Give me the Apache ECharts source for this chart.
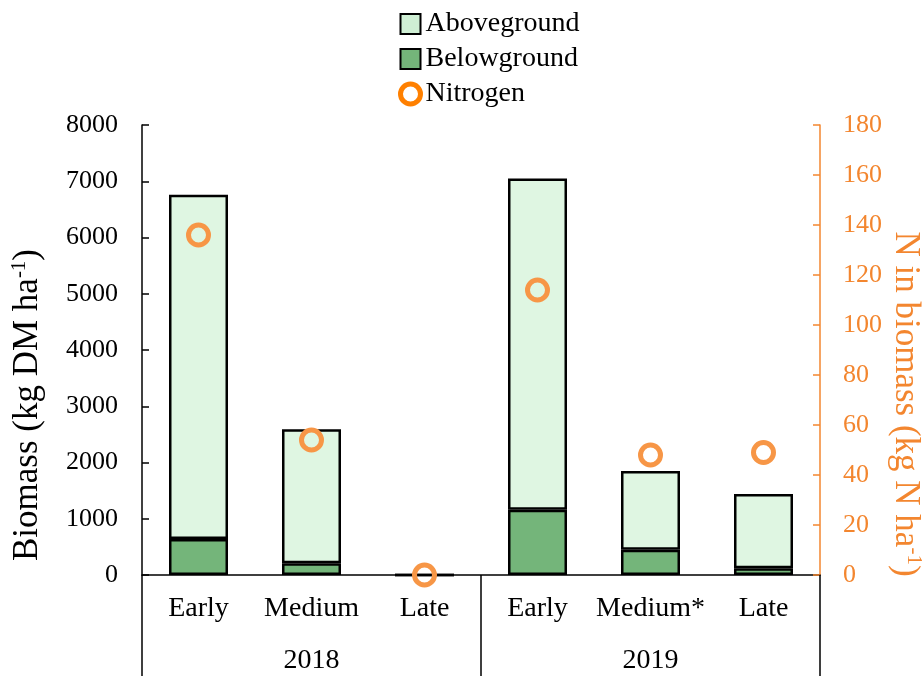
<!DOCTYPE html>
<html>
<head>
<meta charset="utf-8">
<script src="https://cdn.jsdelivr.net/npm/echarts@6/dist/echarts.min.js"></script>
<style>
  html, body { margin: 0; padding: 0; background: #fff; }
  #main { width: 922px; height: 676px; }
</style>
</head>
<body>
<div id="main"></div>
<script>
// 收获期与年份
var stages = ['Early', 'Medium', 'Late', 'Early', 'Medium*', 'Late'];
var years = ['2018', '2019'];
// 生物量 (kg DM/ha)
var belowground = [640, 210, 0, 1160, 450, 120];
var aboveground = [6120, 2380, 0, 5890, 1400, 1320];
// 氮 (kg N/ha)
var nitrogen = [136, 54, 0, 114, 48, 49];

var FONT = '"Liberation Serif", "Times New Roman", serif';
var ORANGE = '#F79646';
var AXIS_ORANGE = '#F3862F';

var chart = echarts.init(document.getElementById('main'));
var option = {
    animation: false,
    textStyle: { fontFamily: FONT },
    legend: {
        orient: 'vertical',
        left: 393,
        top: 5,
        itemWidth: 20,
        itemHeight: 20,
        itemGap: 7,
        textStyle: { fontFamily: FONT, fontSize: 28, color: '#000' },
        data: [
            { name: 'Aboveground', icon: 'rect', itemStyle: { color: '#CFEFD4' } },
            { name: 'Belowground', icon: 'rect' },
            { name: 'Nitrogen', icon: 'circle', itemStyle: { borderColor: '#FF8000', color: '#fff', borderWidth: 5 } }
        ]
    },
    grid: { left: 142, right: 102, top: 125, bottom: 101 },
    xAxis: [{
        type: 'category',
        data: stages,
        axisLine: { lineStyle: { color: '#000', width: 1.5 } },
        axisTick: { show: false },
        axisLabel: { color: '#000', fontSize: 28, fontFamily: FONT, margin: 20, interval: 0 }
    }, {
        type: 'category',
        data: years,
        position: 'bottom',
        axisLine: { show: false },
        axisTick: { show: true, length: 101, lineStyle: { color: '#000', width: 1.5 } },
        axisLabel: { color: '#000', fontSize: 28, fontFamily: FONT, margin: 72 }
    }],
    yAxis: [{
        type: 'value',
        min: 0, max: 8000, interval: 1000,
        splitLine: { show: false },
        axisLine: { show: true, lineStyle: { color: '#000', width: 1.5 } },
        axisTick: { show: true, inside: true, length: 7, lineStyle: { color: '#000', width: 1.5 } },
        axisLabel: { color: '#000', fontSize: 26, fontFamily: FONT, margin: 24, formatter: function (v) { return String(v); } }
    }, {
        type: 'value',
        position: 'right',
        min: 0, max: 180, interval: 20,
        splitLine: { show: false },
        axisLine: { show: true, lineStyle: { color: AXIS_ORANGE, width: 1.5 } },
        axisTick: { show: true, inside: true, length: 7, lineStyle: { color: AXIS_ORANGE, width: 1.5 } },
        axisLabel: { color: AXIS_ORANGE, fontSize: 26, fontFamily: FONT, margin: 23 }
    }],
    graphic: [{
        type: 'text',
        x: 28, y: 405,
        rotation: Math.PI / 2,
        style: {
            text: 'Biomass (kg DM ha{sup|-1})',
            fontFamily: FONT, fontSize: 35, fill: '#000',
            align: 'center', verticalAlign: 'middle',
            rich: { sup: { fontSize: 21, verticalAlign: 'top', lineHeight: 38, fontFamily: FONT } }
        }
    }, {
        type: 'text',
        x: 905, y: 404,
        rotation: -Math.PI / 2,
        style: {
            text: 'N in biomass (kg N ha{sup|-1})',
            fontFamily: FONT, fontSize: 35, fill: AXIS_ORANGE,
            align: 'center', verticalAlign: 'middle',
            rich: { sup: { fontSize: 21, verticalAlign: 'top', lineHeight: 38, fontFamily: FONT, color: AXIS_ORANGE } }
        }
    }],
    series: [{
        name: 'Belowground',
        type: 'bar',
        stack: 'bm',
        barWidth: 59,
        data: belowground,
        itemStyle: { color: '#74B57A', borderColor: '#000', borderWidth: 2.5 }
    }, {
        name: 'Aboveground',
        type: 'bar',
        stack: 'bm',
        barWidth: 59,
        data: aboveground,
        itemStyle: { color: '#DFF6E2', borderColor: '#000', borderWidth: 2.5 }
    }, {
        name: 'Nitrogen',
        type: 'scatter',
        yAxisIndex: 1,
        clip: false,
        symbol: 'circle',
        symbolSize: 20,
        data: nitrogen,
        z: 5,
        itemStyle: { color: 'rgba(255,255,255,0)', borderColor: ORANGE, borderWidth: 5, opacity: 1 }
    }]
};
chart.setOption(option);
</script>
</body>
</html>
